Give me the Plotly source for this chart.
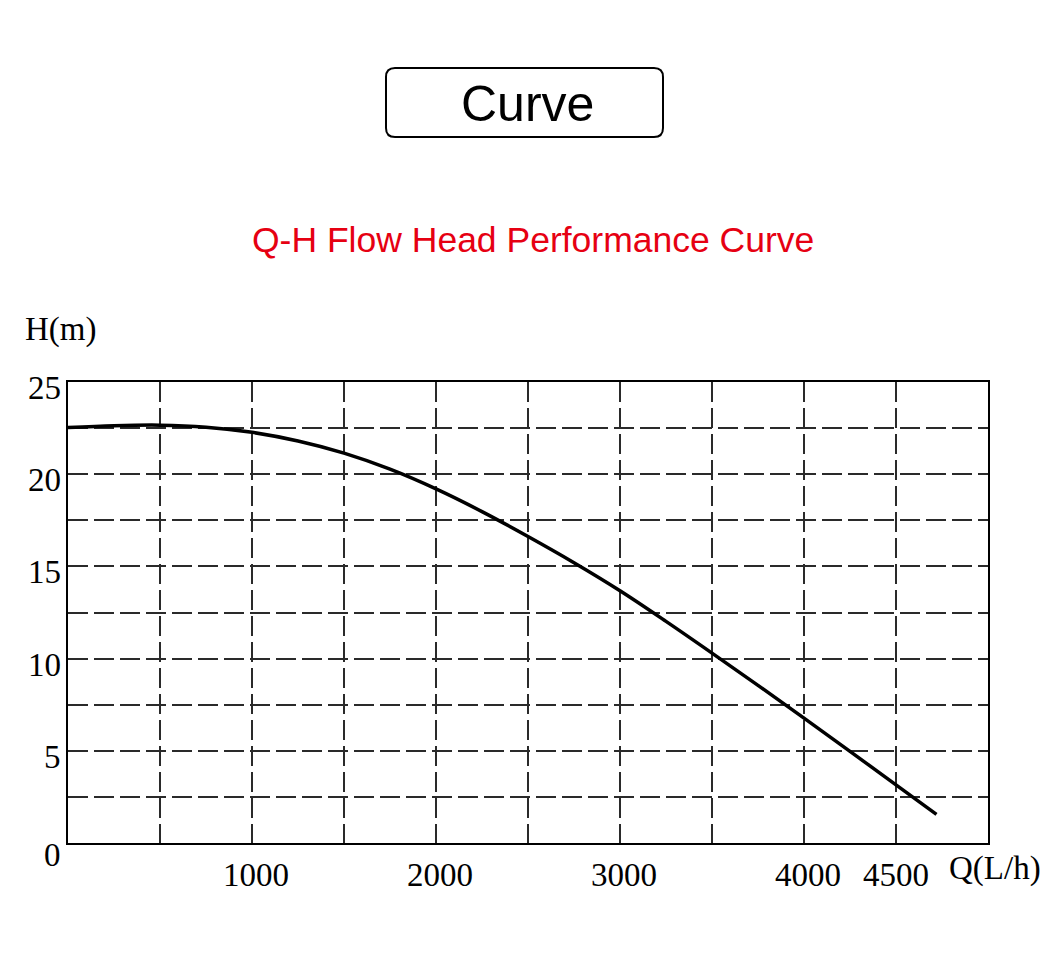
import plotly.graph_objects as go

# Data
flow_q = [0, 250, 500, 750, 1000, 1250, 1500, 1750, 2000, 2250, 2500, 2750,
          3000, 3250, 3500, 3750, 4000, 4250, 4500, 4720]
head_h = [22.53, 22.63, 22.66, 22.55, 22.27, 21.8, 21.14, 20.27, 19.2, 17.97,
          16.62, 15.2, 13.68, 12.02, 10.3, 8.55, 6.77, 4.97, 3.15, 1.55]

x_tick_vals = [1000, 2000, 3000, 4000, 4500]
x_tick_text = ["1000", "2000", "3000", "4000", "4500"]
y_tick_vals = [25, 20, 15, 10, 5, 0]
y_tick_text = ["25", "20", "15", "10", "5", "0"]

title_text = "Curve"
subtitle_text = "Q-H Flow Head Performance Curve"
x_unit = "Q(L/h)"
y_unit = "H(m)"

OFF = 8  # page body margin
W, H = 1060, 964
# target plot box in window pixels: x 68..988, y 382..843
L = 68 - OFF
T = 382 - OFF
R = W - (988 - OFF)
B = H - (843 - OFF)


def px_to_paper_x(px):
    return (px - OFF - L) / (W - L - R)


def px_to_paper_y(py):
    return (H - (py - OFF) - B) / (H - T - B)


fig = go.Figure()
fig.add_trace(go.Scatter(
    x=flow_q, y=head_h, mode="lines",
    line=dict(color="black", width=3.5, shape="spline", smoothing=1.0),
    hoverinfo="skip", showlegend=False,
))

serif = "Liberation Serif"
tick_font = dict(family=serif, size=33, color="black")

annotations = []
for v, t in zip(x_tick_vals, x_tick_text):
    annotations.append(dict(x=v, y=0, xref="x", yref="y", text=t, showarrow=False,
                            font=tick_font, xanchor="center", yanchor="middle",
                            yshift=-32, xshift=4 if v != 4500 else 0))
for v, t in zip(y_tick_vals, y_tick_text):
    annotations.append(dict(x=0, y=v, xref="x", yref="y", text=t, showarrow=False,
                            font=tick_font, xanchor="right", yanchor="middle",
                            xshift=-5, yshift=-12 if v == 0 else -6))
annotations.append(dict(x=px_to_paper_x(60), y=px_to_paper_y(329), xref="paper", yref="paper",
                        text=y_unit, showarrow=False, font=tick_font,
                        xanchor="center", yanchor="middle"))
annotations.append(dict(x=px_to_paper_x(995), y=px_to_paper_y(868), xref="paper", yref="paper",
                        text=x_unit, showarrow=False, font=tick_font,
                        xanchor="center", yanchor="middle"))
annotations.append(dict(x=px_to_paper_x(527), y=px_to_paper_y(104), xref="paper", yref="paper",
                        text=title_text, showarrow=False,
                        font=dict(family="Liberation Sans", size=50, color="black"),
                        xanchor="center", yanchor="middle"))
annotations.append(dict(x=px_to_paper_x(533), y=px_to_paper_y(240), xref="paper", yref="paper",
                        text=subtitle_text, showarrow=False,
                        font=dict(family="Liberation Sans", size=35.5, color="#e60012"),
                        xanchor="center", yanchor="middle"))

# rounded title box path
x0, x1, y0, y1, r = 386, 663, 68, 137, 9


def P(px, py):
    return f"{px_to_paper_x(px):.5f},{px_to_paper_y(py):.5f}"


path = (f"M {P(x0 + r, y0)} L {P(x1 - r, y0)} Q {P(x1, y0)} {P(x1, y0 + r)} "
        f"L {P(x1, y1 - r)} Q {P(x1, y1)} {P(x1 - r, y1)} L {P(x0 + r, y1)} "
        f"Q {P(x0, y1)} {P(x0, y1 - r)} L {P(x0, y0 + r)} Q {P(x0, y0)} {P(x0 + r, y0)} Z")

shapes = [
    dict(type="path", xref="paper", yref="paper", path=path,
         line=dict(color="black", width=2), fillcolor="white", layer="below"),
]

grid_common = dict(showgrid=True, gridcolor="#2a2a2a", gridwidth=2,
                   showline=True, linecolor="black", linewidth=2, mirror=True,
                   zeroline=False, showticklabels=False, ticks="", fixedrange=True)

fig.update_layout(
    width=W, height=H,
    margin=dict(l=L, r=R, t=T, b=B, pad=0),
    paper_bgcolor="white", plot_bgcolor="white",
    xaxis=dict(range=[0, 5000], tickvals=[500 * i for i in range(1, 10)],
               griddash="20px,6px", **grid_common),
    yaxis=dict(range=[0, 25], tickvals=[2.5 * i for i in range(1, 10)],
               griddash="20px,6px", **grid_common),
    annotations=annotations,
    shapes=shapes,
    showlegend=False,
)

fig.write_html("out.html")
